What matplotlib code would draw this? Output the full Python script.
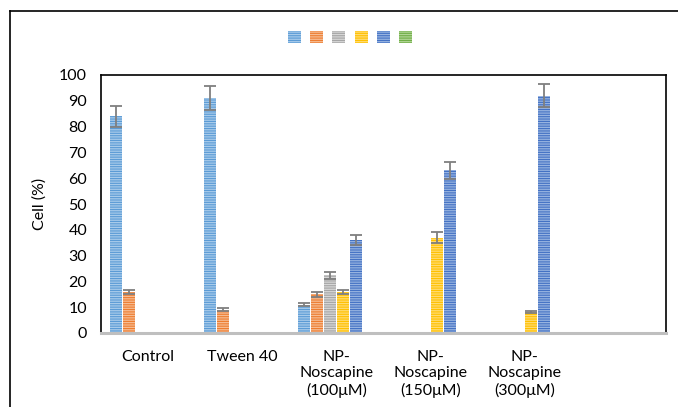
import numpy as np
import matplotlib.pyplot as plt
from matplotlib.lines import Line2D

categories = ["Control", "Tween 40", "NP-\nNoscapine\n(100μM)",
              "NP-\nNoscapine\n(150μM)", "NP-\nNoscapine\n(300μM)", ""]
nan = np.nan
# six series (one per colour), values and error bars per category
values = [
    [84, 91, 11, nan, nan, nan],
    [16, 9, 15, nan, nan, nan],
    [nan, nan, 22.3, nan, nan, nan],
    [nan, nan, 16, 37, 8, nan],
    [nan, nan, 36, 63, 92, nan],
    [nan, nan, nan, nan, nan, nan],
]
errors = [
    [4, 4.7, 0.7, 0, 0, 0],
    [0.8, 0.5, 1, 0, 0, 0],
    [0, 0, 1.2, 0, 0, 0],
    [0, 0, 0.8, 2, 0.4, 0],
    [0, 0, 1.9, 3.2, 4.5, 0],
    [0, 0, 0, 0, 0, 0],
]
colors = ["#5B9BD5", "#ED7D31", "#A5A5A5", "#FFC000", "#4472C4", "#70AD47"]
stripes = ["#A8CBEA", "#F6BC93", "#D6D6D6", "#FFDC73", "#97B3E0", "#B0D595"]

plt.rcParams['font.family'] = ['Lato', 'DejaVu Sans']
plt.rcParams['hatch.linewidth'] = 0.9

fig = plt.figure(figsize=(6.78, 4.07), dpi=100)
ax = fig.add_axes([101 / 678, 1 - 333 / 407, 565 / 678, 258 / 407])

# outer frame (cut off at right and bottom)
fig.add_artist(Line2D([10 / 678, 10 / 678], [0, 1 - 11 / 407], color='black', lw=1.2,
                      transform=fig.transFigure))
fig.add_artist(Line2D([10 / 678, 1], [1 - 11 / 407, 1 - 11 / 407], color='black', lw=1.2,
                      transform=fig.transFigure))

x = np.arange(len(categories))
step = 0.138
width = 0.128
handles = []
for i in range(6):
    pos = x + (i - 2.5) * step
    vals = np.array(values[i], dtype=float)
    bars = ax.bar(pos, vals, width, color=colors[i], edgecolor=stripes[i],
                  linewidth=0, hatch='-------', zorder=2)
    handles.append(bars)
    err = np.array(errors[i], dtype=float)
    mask = ~np.isnan(vals)
    if mask.any():
        ax.errorbar(pos[mask], vals[mask], yerr=err[mask], fmt='none',
                    ecolor='#7F7F7F', elinewidth=1.3, capsize=4, capthick=1.3, zorder=3)

ax.set_xlim(-0.5, len(categories) - 0.5)
ax.set_ylim(0, 100)
ax.set_yticks(np.arange(0, 101, 10))
ax.set_xticks(x)
ax.set_xticklabels(categories, fontsize=11.5, linespacing=1.25)
ax.tick_params(axis='both', length=0, labelsize=11.5)
ax.tick_params(axis='x', pad=12)
ax.tick_params(axis='y', pad=10)
ax.set_ylabel("Cell (%)", fontsize=11.5, labelpad=9)

for s in ['left', 'top', 'right']:
    ax.spines[s].set_color('black')
    ax.spines[s].set_linewidth(1.2)
ax.spines['bottom'].set_color('#BFBFBF')
ax.spines['bottom'].set_linewidth(2.2)

fig.legend(handles, [''] * 6, ncol=6, loc='center', bbox_to_anchor=(350 / 678, 1 - 38 / 407),
           frameon=False, handlelength=0.85, handleheight=0.85, handletextpad=0,
           columnspacing=0.6, fontsize=11)

fig.savefig("out.png", dpi=100)
